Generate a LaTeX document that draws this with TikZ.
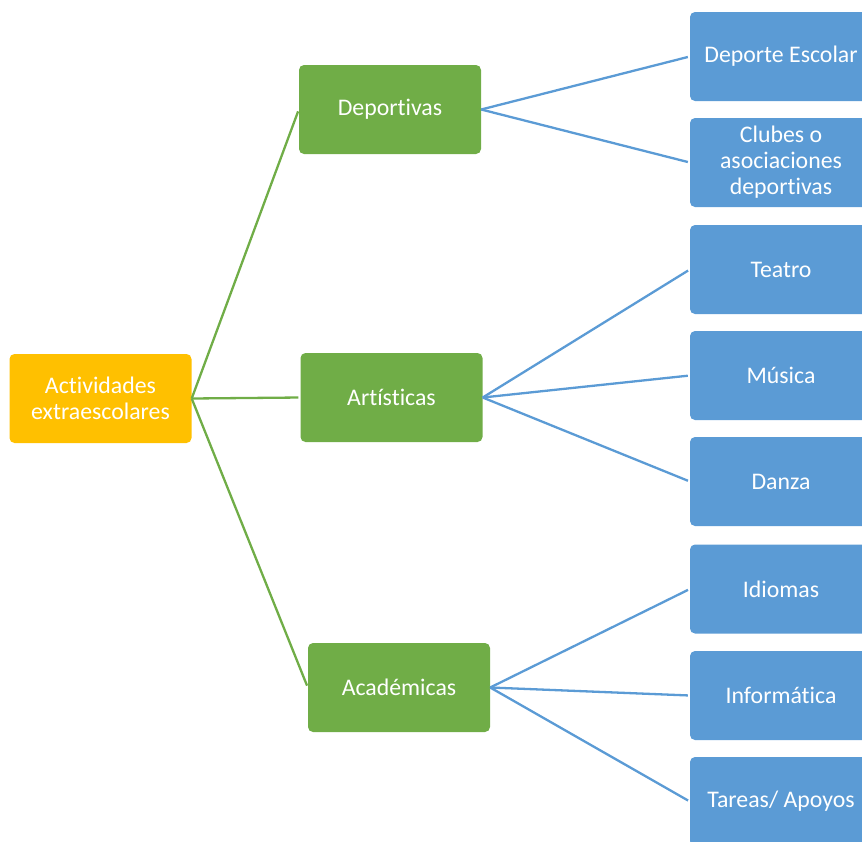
\documentclass[tikz,border=0pt]{standalone}
\usepackage{fontspec}
\setmainfont[Ligatures=NoCommon]{Carlito}
\usepackage{tikz}

\definecolor{rootyellow}{HTML}{FFC000}
\definecolor{midgreen}{HTML}{70AD47}
\definecolor{leafblue}{HTML}{5B9BD5}

\begin{document}
\begin{tikzpicture}[x=1pt, y=-1pt,
  box/.style={shape=rectangle, rounded corners=5pt, minimum width=182pt, minimum height=89pt, inner sep=0pt, text=white, align=center, font=\fontsize{23.8}{26}\selectfont},
  rootbox/.style={box, fill=rootyellow},
  midbox/.style={box, fill=midgreen},
  leafbox/.style={box, fill=leafblue},
  gline/.style={draw=midgreen, line width=2.3pt, shorten >=2pt},
  bline/.style={draw=leafblue, line width=2.3pt, shorten >=2pt}]
\useasboundingbox (0,0) rectangle (862,841);

\node[rootbox](act) at (100.5,398.5) {Actividades\\extraescolares};

\node[midbox](dep) at (390,109.5) {Deportivas};
\node[midbox](art) at (391.5,397.5) {Artísticas};
\node[midbox](aca) at (399,687.5) {Académicas};

\node[leafbox](esc) at (781,56.5) {Deporte Escolar};
\node[leafbox](clu) at (781,162.5) {Clubes o\\asociaciones\\deportivas};
\node[leafbox](tea) at (781,269.5) {Teatro};
\node[leafbox](mus) at (781,375.5) {Música};
\node[leafbox](dan) at (781,481.5) {Danza};
\node[leafbox](idi) at (781,589) {Idiomas};
\node[leafbox](inf) at (781,695.5) {Informática};
\node[leafbox](tar) at (781,801.5) {Tareas/ Apoyos};

\path[gline] (act.east) edge (dep.west) edge (art.west) edge (aca.west);
\path[bline] (dep.east) edge (esc.west) edge (clu.west);
\path[bline] (art.east) edge (tea.west) edge (mus.west) edge (dan.west);
\path[bline] (aca.east) edge (idi.west) edge (inf.west) edge (tar.west);
\end{tikzpicture}
\end{document}
